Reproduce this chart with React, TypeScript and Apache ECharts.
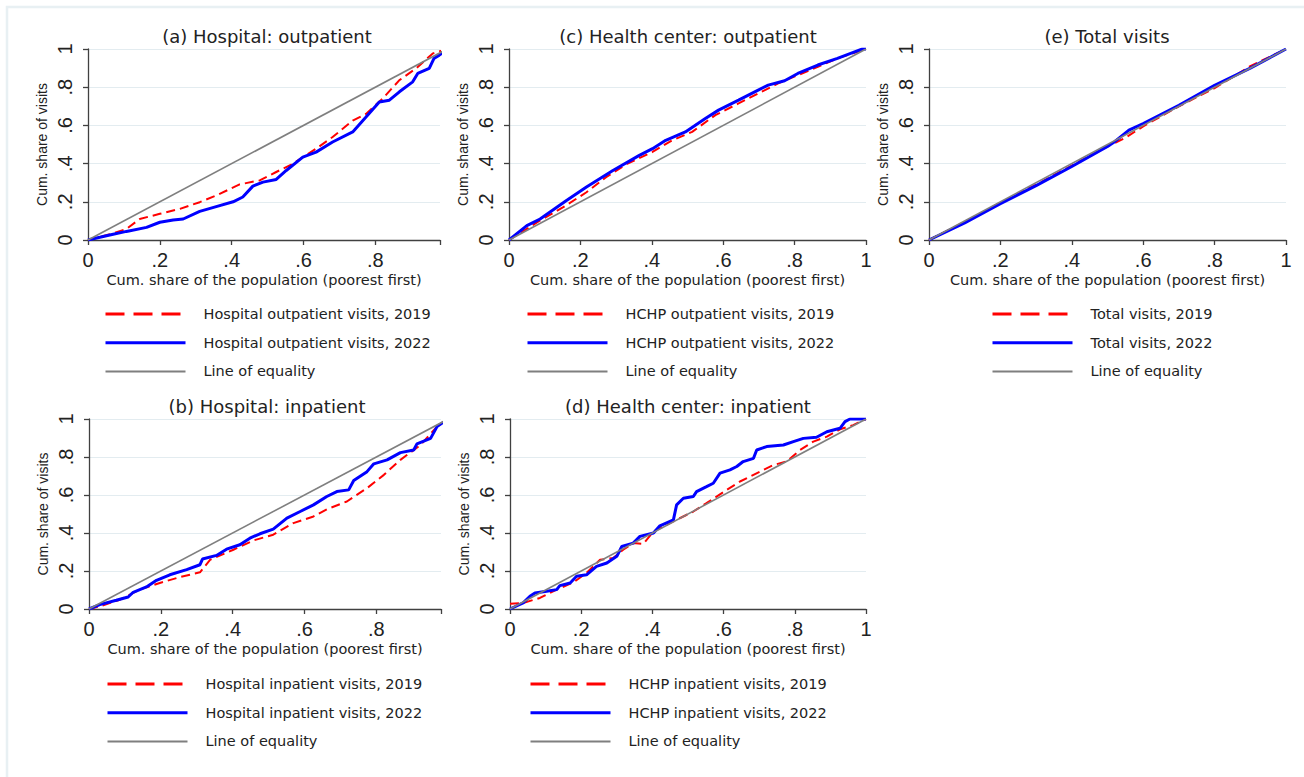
import React, { useEffect, useRef } from 'react';
import * as echarts from 'echarts';

const TICK_VALUES = [0, 0.2, 0.4, 0.6, 0.8, 1];
const TICK_LABELS = ['0', '.2', '.4', '.6', '.8', '1'];
const X_TITLE = 'Cum. share of the population (poorest first)';
const Y_TITLE = 'Cum. share of visits';
const EQUALITY_NAME = 'Line of equality';

const PANEL_TITLES = [
  '(a) Hospital: outpatient',
  '(c) Health center: outpatient',
  '(e) Total visits',
  '(b) Hospital: inpatient',
  '(d) Health center: inpatient',
];

const NAMES_2019 = [
  'Hospital outpatient visits, 2019',
  'HCHP outpatient visits, 2019',
  'Total visits, 2019',
  'Hospital inpatient visits, 2019',
  'HCHP inpatient visits, 2019',
];
const NAMES_2022 = [
  'Hospital outpatient visits, 2022',
  'HCHP outpatient visits, 2022',
  'Total visits, 2022',
  'Hospital inpatient visits, 2022',
  'HCHP inpatient visits, 2022',
];

const equality = [[0, 0], [1, 1]];

const hospOut2019 = [[0,0],[0.061,0.03],[0.107,0.058],[0.144,0.11],[0.2,0.137],[0.256,0.163],[0.311,0.198],[0.357,0.233],[0.422,0.291],[0.478,0.312],[0.524,0.356],[0.57,0.399],[0.635,0.478],[0.681,0.539],[0.737,0.625],[0.774,0.66],[0.82,0.74],[0.867,0.837],[0.913,0.898],[0.96,0.977],[1,1]];
const hospOut2022 = [[0,0],[0.033,0.014],[0.07,0.03],[0.107,0.045],[0.163,0.066],[0.2,0.093],[0.237,0.105],[0.265,0.11],[0.311,0.15],[0.357,0.175],[0.404,0.2],[0.431,0.225],[0.459,0.282],[0.487,0.303],[0.524,0.317],[0.552,0.364],[0.598,0.434],[0.635,0.46],[0.681,0.513],[0.737,0.566],[0.774,0.644],[0.811,0.723],[0.839,0.732],[0.867,0.776],[0.904,0.828],[0.918,0.872],[0.95,0.898],[0.963,0.95],[0.978,0.968],[1,1]];

const hcOut2019 = [[0,0],[0.087,0.102],[0.152,0.172],[0.217,0.25],[0.272,0.329],[0.328,0.396],[0.402,0.461],[0.457,0.522],[0.513,0.566],[0.578,0.654],[0.643,0.715],[0.698,0.767],[0.754,0.82],[0.809,0.863],[0.865,0.907],[0.92,0.951],[1,1]];
const hcOut2022 = [[0,0],[0.05,0.075],[0.087,0.11],[0.161,0.207],[0.217,0.277],[0.291,0.364],[0.365,0.443],[0.402,0.478],[0.439,0.522],[0.494,0.566],[0.55,0.636],[0.587,0.68],[0.643,0.732],[0.698,0.785],[0.726,0.811],[0.772,0.834],[0.809,0.872],[0.865,0.916],[0.92,0.951],[0.957,0.977],[0.99,1],[1,1]];

const total2019 = [[0,0],[0.1,0.095],[0.2,0.195],[0.3,0.29],[0.4,0.39],[0.5,0.49],[0.55,0.535],[0.6,0.595],[0.7,0.7],[0.8,0.795],[0.9,0.91],[1,1]];
const total2022 = [[0,0],[0.1,0.09],[0.2,0.19],[0.3,0.285],[0.4,0.385],[0.5,0.49],[0.52,0.515],[0.56,0.575],[0.6,0.61],[0.7,0.705],[0.8,0.81],[0.9,0.9],[1,1]];

const hospIn2019 = [[0,0],[0.03,0.014],[0.086,0.049],[0.141,0.102],[0.197,0.137],[0.253,0.168],[0.309,0.193],[0.337,0.259],[0.402,0.312],[0.458,0.361],[0.513,0.391],[0.569,0.452],[0.625,0.487],[0.662,0.525],[0.718,0.566],[0.774,0.636],[0.821,0.706],[0.867,0.785],[0.923,0.863],[0.969,0.96],[1,1]];
const hospIn2022 = [[0,0],[0.03,0.023],[0.076,0.046],[0.109,0.063],[0.123,0.088],[0.16,0.116],[0.188,0.151],[0.225,0.18],[0.272,0.207],[0.309,0.233],[0.316,0.263],[0.355,0.282],[0.383,0.315],[0.42,0.338],[0.448,0.373],[0.476,0.396],[0.513,0.42],[0.551,0.478],[0.588,0.513],[0.625,0.548],[0.662,0.592],[0.69,0.618],[0.723,0.627],[0.737,0.676],[0.774,0.723],[0.793,0.764],[0.83,0.785],[0.867,0.823],[0.904,0.837],[0.913,0.869],[0.951,0.898],[0.969,0.96],[1,1]];

const hcIn2019 = [[0,0.028],[0.037,0.032],[0.084,0.058],[0.131,0.102],[0.178,0.14],[0.215,0.19],[0.253,0.259],[0.29,0.268],[0.318,0.312],[0.346,0.347],[0.375,0.343],[0.403,0.408],[0.459,0.461],[0.515,0.513],[0.552,0.557],[0.609,0.627],[0.646,0.671],[0.702,0.723],[0.74,0.758],[0.777,0.776],[0.815,0.837],[0.852,0.881],[0.89,0.907],[0.927,0.946],[0.964,0.968],[1,1]];
const hcIn2022 = [[0,0],[0.037,0.032],[0.056,0.067],[0.07,0.084],[0.103,0.093],[0.131,0.102],[0.14,0.123],[0.169,0.137],[0.187,0.172],[0.215,0.18],[0.243,0.224],[0.272,0.242],[0.3,0.277],[0.314,0.329],[0.346,0.347],[0.365,0.382],[0.403,0.4],[0.421,0.438],[0.459,0.469],[0.468,0.548],[0.487,0.583],[0.515,0.592],[0.524,0.618],[0.552,0.644],[0.571,0.662],[0.59,0.715],[0.618,0.732],[0.637,0.75],[0.655,0.776],[0.684,0.793],[0.693,0.837],[0.721,0.855],[0.768,0.863],[0.796,0.881],[0.824,0.898],[0.861,0.904],[0.89,0.933],[0.927,0.951],[0.941,0.986],[0.955,1],[1,1]];

const DATA_2019 = [hospOut2019, hcOut2019, total2019, hospIn2019, hcIn2019];
const DATA_2022 = [hospOut2022, hcOut2022, total2022, hospIn2022, hcIn2022];

const LAYOUT = [
  { left: 88, top: 49, width: 352, height: 191, xMax: 0.98, titleX: 267, titleY: 36, legendLeft: 104, legendTop: 306 },
  { left: 509, top: 49, width: 357, height: 191, xMax: 1, titleX: 688, titleY: 36, legendLeft: 526, legendTop: 306 },
  { left: 929, top: 49, width: 357, height: 191, xMax: 1, titleX: 1107, titleY: 36, legendLeft: 991, legendTop: 306 },
  { left: 89, top: 419, width: 352, height: 190, xMax: 0.98, titleX: 267, titleY: 406, legendLeft: 106, legendTop: 676 },
  { left: 510, top: 419, width: 356, height: 190, xMax: 1, titleX: 688, titleY: 406, legendLeft: 529, legendTop: 676 },
];

const RED = '#ff0000';
const BLUE = '#0000ff';
const GREY = '#7f7f7f';
const TEXT = '#222222';
const AXIS = '#404040';
const GRIDLINE = '#e3ecf0';

function fmt(v: number): string {
  const i = TICK_VALUES.findIndex((t) => Math.abs(t - v) < 1e-6);
  return i >= 0 ? TICK_LABELS[i] : '';
}

export default function App() {
  const ref = useRef<HTMLDivElement>(null);
  useEffect(() => {
    document.body.style.margin = '0';
    if (!ref.current) return;
    const chart = echarts.init(ref.current, null, { renderer: 'svg' });

    const grids = LAYOUT.map((l) => ({ left: l.left, top: l.top, width: l.width, height: l.height }));
    const xAxes = LAYOUT.map((l, i) => ({
      type: 'value', gridIndex: i, min: 0, max: l.xMax, interval: 0.2,
      name: X_TITLE, nameLocation: 'middle', nameGap: 32,
      nameTextStyle: { fontFamily: 'DejaVu Sans', fontSize: 14.5, color: TEXT },
      axisLine: { show: true, onZero: false, lineStyle: { color: AXIS, width: 1.3 } },
      axisTick: { show: true, length: 5, lineStyle: { color: AXIS, width: 1.3 } },
      axisLabel: { margin: 10, fontFamily: 'Liberation Sans', fontSize: 20, color: TEXT, formatter: fmt },
      splitLine: { show: false },
    }));
    const yAxes = LAYOUT.map((l, i) => ({
      type: 'value', gridIndex: i, min: 0, max: 1, interval: 0.2,
      name: Y_TITLE, nameLocation: 'middle', nameGap: 39,
      nameTextStyle: { fontFamily: 'Liberation Sans', fontSize: 14, color: TEXT },
      axisLine: { show: true, onZero: false, lineStyle: { color: AXIS, width: 1.3 } },
      axisTick: { show: true, length: 5, lineStyle: { color: AXIS, width: 1.3 } },
      axisLabel: { margin: 13, rotate: 90, fontFamily: 'Liberation Sans', fontSize: 20, color: TEXT, formatter: fmt },
      splitLine: { show: true, lineStyle: { color: GRIDLINE, width: 1.2 } },
    }));

    const series: any[] = [];
    LAYOUT.forEach((_, i) => {
      series.push({
        type: 'line', name: NAMES_2019[i], xAxisIndex: i, yAxisIndex: i, data: DATA_2019[i],
        symbol: 'none', showSymbol: false, lineStyle: { color: RED, width: 2, type: [9, 5] }, itemStyle: { color: RED },
      });
      series.push({
        type: 'line', name: NAMES_2022[i], xAxisIndex: i, yAxisIndex: i, data: DATA_2022[i],
        symbol: 'none', showSymbol: false, lineStyle: { color: BLUE, width: 3 }, itemStyle: { color: BLUE },
      });
      series.push({
        type: 'line', name: EQUALITY_NAME, xAxisIndex: i, yAxisIndex: i, data: equality,
        symbol: 'none', showSymbol: false, lineStyle: { color: GREY, width: 1.6 }, itemStyle: { color: GREY },
      });
    });

    const hiddenSymbol = { color: 'rgba(0,0,0,0)', opacity: 0, borderWidth: 0 };
    const legends = LAYOUT.map((l, i) => ({
      orient: 'vertical', left: l.legendLeft, top: l.legendTop,
      itemWidth: 80, itemHeight: 16, itemGap: 12.7, selectedMode: false, padding: 0,
      itemStyle: hiddenSymbol,
      textStyle: { fontFamily: 'DejaVu Sans', fontSize: 14.5, color: TEXT, lineHeight: 16, padding: [0, 0, 0, 13] },
      data: [
        { name: NAMES_2019[i], itemStyle: hiddenSymbol, lineStyle: { color: RED, width: 3, type: [19, 9] } },
        { name: NAMES_2022[i], itemStyle: hiddenSymbol, lineStyle: { color: BLUE, width: 3 } },
        { name: EQUALITY_NAME, itemStyle: hiddenSymbol, lineStyle: { color: GREY, width: 2 } },
      ],
    }));

    const graphics: any[] = [
      {
        type: 'rect', shape: { x: 7, y: 7, width: 1310, height: 790 },
        style: { fill: 'none', stroke: '#e8f0f3', lineWidth: 2.5 }, z: 0, silent: true,
      },
      ...LAYOUT.map((l, i) => ({
        type: 'text', x: l.titleX, y: l.titleY,
        style: { text: PANEL_TITLES[i], fill: TEXT, font: '18px "DejaVu Sans"', align: 'center', verticalAlign: 'middle' },
      })),
    ];

    chart.setOption({
      animation: false,
      backgroundColor: '#ffffff',
      grid: grids,
      xAxis: xAxes,
      yAxis: yAxes,
      series,
      legend: legends,
      graphic: graphics,
    });
    return () => chart.dispose();
  }, []);
  return <div ref={ref} style={{ width: 1304, height: 777 }} />;
}
